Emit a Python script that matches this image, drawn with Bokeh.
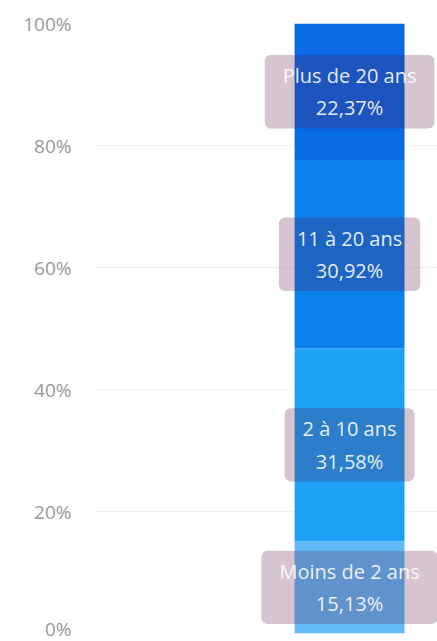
from bokeh.plotting import figure
from bokeh.models import Range1d, Label, FixedTicker
from bokeh.embed import file_html
from bokeh.resources import INLINE

categories = ["Moins de 2 ans", "2 à 10 ans", "11 à 20 ans", "Plus de 20 ans"]
values = [15.13, 31.58, 30.92, 22.37]
colors = ["#62bcf8", "#1ea2f6", "#0a80ec", "#0a6ae4"]
y_ticks = [0, 20, 40, 60, 80, 100]

bottoms = []
tops = []
acc = 0.0
for v in values:
    bottoms.append(acc)
    acc += v
    tops.append(acc)

p = figure(width=437, height=641, output_backend="svg", toolbar_location=None,
           x_range=Range1d(-2.33, 0.8), y_range=Range1d(0, 100),
           min_border_left=93, min_border_right=0, min_border_top=23, min_border_bottom=8)
p.outline_line_color = None
p.xaxis.visible = False
p.xgrid.visible = False
p.ygrid.grid_line_color = "#f2f2f2"
p.ygrid.grid_line_width = 1
p.yaxis.ticker = FixedTicker(ticks=y_ticks)
p.yaxis.major_label_overrides = {t: f"{t}%" for t in y_ticks}
p.yaxis.axis_line_color = None
p.yaxis.major_tick_line_color = None
p.yaxis.minor_tick_line_color = None
p.yaxis.major_label_text_color = "#999999"
p.yaxis.major_label_text_font = "Open Sans"
p.yaxis.major_label_text_font_size = "19px"
p.yaxis.major_label_standoff = 16

p.vbar(x=[0] * len(values), width=1.0, bottom=bottoms, top=tops, fill_color=colors,
       line_color=None)

for cat, v, b, t in zip(categories, values, bottoms, tops):
    txt = f"{cat}\n{v:.2f}%".replace(".", ",")
    lab = Label(x=0, y=(b + t) / 2, text=txt, text_align="center", text_baseline="middle",
                text_color="white", text_alpha=0.9, text_font="Open Sans", text_font_size="20px",
                text_line_height=1.2,
                background_fill_color="#5a1446", background_fill_alpha=0.25,
                border_radius=6, padding=dict(left=18, right=18, top=7, bottom=7))
    p.add_layout(lab)

open("out.html", "w").write(file_html(p, INLINE))
